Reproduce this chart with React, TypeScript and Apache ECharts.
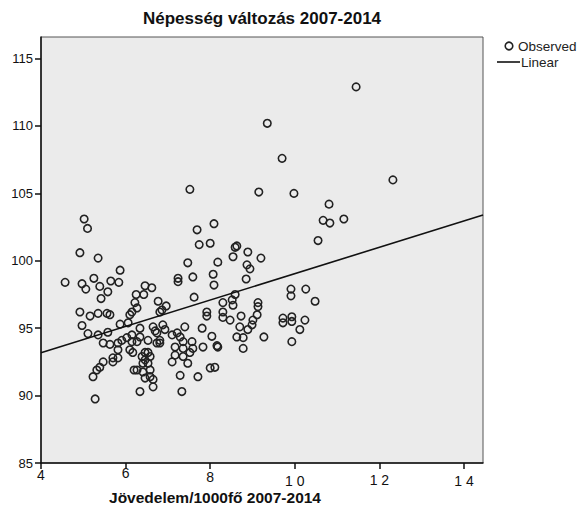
import React, { useEffect, useRef } from "react";
import * as echarts from "echarts";

// Observed points (Jövedelem/1000fő, Népesség változás)
const obsX = [
  11.45, 9.35, 9.70, 7.52, 9.15, 9.98, 12.32, 10.81, 10.67, 10.83, 11.16, 10.55, 8.09, 7.69,
  5.02, 5.10, 4.92, 5.35, 4.57, 5.25, 5.87, 5.65, 5.84, 4.97, 5.06, 5.39, 5.58, 5.42,
  7.74, 8.00, 7.47, 8.18, 7.59, 8.07, 7.24, 7.24, 8.09, 6.46, 6.62, 6.25, 6.43, 7.62, 6.22, 6.27, 6.77, 6.96, 6.86, 7.92, 8.30, 8.30,
  4.92, 5.16, 5.35, 5.56, 5.63, 6.10, 4.97, 5.11, 5.35, 5.58, 5.87, 6.06, 5.47, 5.63, 5.82, 5.91, 6.03, 6.15, 5.82, 6.10, 5.70, 5.82, 5.70, 5.47, 5.39, 5.32, 5.23, 5.28, 6.20,
  6.15, 6.81, 7.92, 8.30, 6.65, 6.70, 6.74, 6.88, 6.93, 7.40, 7.81, 8.04, 6.34, 6.15, 6.34, 6.27, 6.53, 6.81, 6.81, 6.74, 7.10, 7.22, 7.29, 7.36, 7.57, 7.83, 8.16, 7.17, 7.36, 7.59,
  6.53, 6.46, 6.58, 6.46, 6.39, 6.17, 7.17, 7.36, 7.52, 7.10, 7.47, 6.41, 6.53, 6.27, 6.41, 6.58, 6.58, 6.65, 6.65, 7.29, 7.71, 8.00, 6.34, 7.33, 6.46,
  8.59, 8.63, 8.54, 8.89, 9.20, 8.87, 8.94, 8.85, 8.59, 8.52, 8.54, 9.91, 9.91, 10.26, 10.48, 9.13, 9.13, 9.11, 9.01, 8.99, 8.73, 8.70, 8.89, 8.63, 8.78, 8.78, 9.27,
  9.72, 9.72, 9.93, 9.93, 10.24, 10.12, 9.93, 8.47, 8.18, 8.11,
];
const obsY = [
  112.9, 110.2, 107.6, 105.3, 105.1, 105.0, 106.0, 104.2, 103.0, 102.8, 103.1, 101.5, 102.75, 102.3,
  103.1, 102.4, 100.6, 100.2, 98.4, 98.7, 99.3, 98.5, 98.4, 98.3, 97.9, 98.1, 97.7, 97.2,
  101.2, 101.3, 99.85, 99.9, 98.8, 99.0, 98.7, 98.45, 98.2, 98.15, 98.0, 97.5, 97.5, 97.3, 96.9, 96.5, 97.0, 96.65, 96.35, 96.2, 96.2, 96.9,
  96.2, 95.9, 96.1, 96.1, 96.0, 96.0, 95.2, 94.6, 94.5, 94.7, 95.3, 95.4, 93.9, 93.8, 93.9, 94.1, 94.3, 94.0, 93.4, 93.4, 92.8, 92.8, 92.5, 92.5, 92.1, 91.9, 91.4, 89.75, 91.9,
  96.2, 96.2, 95.9, 95.8, 95.1, 94.8, 94.65, 95.25, 94.9, 95.1, 95.0, 94.4, 95.0, 94.5, 94.35, 94.0, 94.1, 94.1, 93.9, 93.9, 94.5, 94.65, 94.35, 94.0, 94.0, 93.6, 93.7, 93.6, 93.5, 93.5,
  93.2, 93.2, 92.9, 92.65, 92.9, 93.2, 93.0, 92.9, 93.2, 92.5, 92.4, 92.4, 92.4, 91.9, 91.75, 91.9, 91.4, 91.2, 90.65, 91.5, 91.4, 92.05, 90.3, 90.3, 91.3,
  101.0, 101.1, 100.3, 100.65, 100.2, 99.7, 99.4, 98.65, 97.5, 97.1, 96.7, 97.9, 97.4, 97.9, 97.0, 96.9, 96.6, 96.0, 95.6, 95.25, 95.9, 95.1, 94.9, 94.35, 94.3, 93.5, 94.35,
  95.75, 95.4, 95.85, 95.5, 95.6, 94.9, 94.0, 95.6, 93.6, 92.1,
];

// Linear fit, end points
const linearX = [4, 14.45];
const linearY = [93.17, 103.4];

const xTicks = [4, 6, 8, 10, 12, 14];
const xTickLabels = ["4", "6", "8", "1 0", "1 2", "1 4"];
const yTicks = [85, 90, 95, 100, 105, 110, 115];

const titleText = "Népesség változás 2007-2014";
const xAxisTitle = "Jövedelem/1000fő 2007-2014";
const legendNames = ["Observed", "Linear"];

const FONT = '"Liberation Sans", Arial, Helvetica, sans-serif';

export default function App() {
  const ref = useRef<HTMLDivElement>(null);

  useEffect(() => {
    if (!ref.current) return;
    const chart = echarts.init(ref.current, undefined, { renderer: "svg" });

    const labelPad: Record<number, number> = { 4: 2, 6: 0, 8: 4, 10: 8, 12: 7, 14: 8 };
    const rich: Record<string, any> = {};
    xTicks.forEach((t) => {
      rich["p" + t] = {
        fontSize: 14,
        fontFamily: FONT,
        color: "#111",
        padding: [labelPad[t], 0, 0, 0],
      };
    });

    const option: any = {
      animation: false,
      backgroundColor: "#ffffff",
      grid: {
        left: 41,
        right: 99,
        top: 37,
        bottom: 51,
        containLabel: false,
        outerBoundsMode: "none",
        show: true,
        backgroundColor: "#ebebeb",
        borderColor: "#555",
        borderWidth: 1,
      },
      xAxis: {
        type: "value",
        min: 4,
        max: 14.45,
        interval: 2,
        splitLine: { show: false },
        axisLine: { show: true, onZero: false, lineStyle: { color: "#111", width: 1.5 } },
        axisTick: {
          show: true,
          length: 6,
          customValues: xTicks,
          lineStyle: { color: "#111", width: 1.5 },
        },
        axisLabel: {
          customValues: xTicks,
          margin: 3,
          fontSize: 14,
          fontFamily: FONT,
          color: "#111",
          formatter: (v: number) => {
            const i = xTicks.indexOf(Math.round(v));
            if (i < 0) return "";
            return "{p" + xTicks[i] + "|" + xTickLabels[i] + "}";
          },
          rich,
        },
      },
      yAxis: {
        type: "value",
        min: 85,
        max: 116.6,
        interval: 5,
        splitLine: { show: false },
        axisLine: { show: true, onZero: false, lineStyle: { color: "#111", width: 1.5 } },
        axisTick: {
          show: true,
          length: 6,
          customValues: yTicks,
          lineStyle: { color: "#111", width: 1.5 },
        },
        axisLabel: {
          customValues: yTicks,
          margin: 8,
          fontSize: 13,
          fontFamily: FONT,
          color: "#111",
        },
      },
      series: [
        {
          name: legendNames[0],
          type: "scatter",
          symbol: "circle",
          symbolSize: 7.5,
          data: obsX.map((x, i) => [x, obsY[i]]),
          itemStyle: {
            color: "rgba(0,0,0,0)",
            borderColor: "#222",
            borderWidth: 1.6,
            opacity: 1,
          },
          z: 2,
        },
        {
          name: legendNames[1],
          type: "line",
          data: linearX.map((x, i) => [x, linearY[i]]),
          symbol: "none",
          lineStyle: { color: "#111", width: 1.6 },
          z: 3,
        },
      ],
      graphic: [
        {
          type: "text",
          x: 262,
          y: 18,
          style: {
            text: titleText,
            align: "center",
            verticalAlign: "middle",
            fontSize: 17,
            fontWeight: "bold",
            fontFamily: FONT,
            fill: "#111",
          },
        },
        {
          type: "text",
          x: 215,
          y: 497,
          style: {
            text: xAxisTitle,
            align: "center",
            verticalAlign: "middle",
            fontSize: 15.5,
            fontWeight: "bold",
            fontFamily: FONT,
            fill: "#111",
          },
        },
        {
          type: "circle",
          shape: { cx: 509, cy: 46, r: 3.8 },
          style: { fill: "none", stroke: "#222", lineWidth: 1.6 },
        },
        {
          type: "text",
          x: 518,
          y: 46,
          style: {
            text: legendNames[0],
            align: "left",
            verticalAlign: "middle",
            fontSize: 13.5,
            fontFamily: FONT,
            fill: "#222",
          },
        },
        {
          type: "line",
          shape: { x1: 497, y1: 62, x2: 520, y2: 62 },
          style: { stroke: "#111", lineWidth: 1.6 },
        },
        {
          type: "text",
          x: 521,
          y: 62,
          style: {
            text: legendNames[1],
            align: "left",
            verticalAlign: "middle",
            fontSize: 13.5,
            fontFamily: FONT,
            fill: "#222",
          },
        },
      ],
    };

    chart.setOption(option);
    return () => {
      chart.dispose();
    };
  }, []);

  return (
    <div
      ref={ref}
      style={{ position: "fixed", left: 0, top: 0, width: 582, height: 514, background: "#fff" }}
    />
  );
}
